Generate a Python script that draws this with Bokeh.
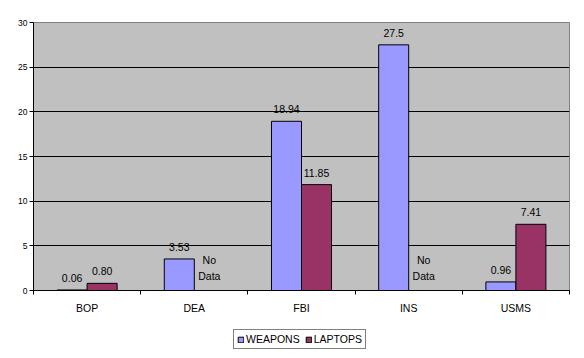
from bokeh.plotting import figure
from bokeh.models import ColumnDataSource, Range1d, FixedTicker, Legend, LegendItem
from bokeh.transform import dodge
from bokeh.core.properties import value
from bokeh.layouts import column
from bokeh.embed import file_html
from bokeh.resources import INLINE
import math

categories = ["BOP", "DEA", "FBI", "INS", "USMS"]
weapons = [0.06, 3.53, 18.94, 27.5, 0.96]
laptops = [0.80, float("nan"), 11.85, float("nan"), 7.41]
weapons_labels = ["0.06", "3.53", "18.94", "27.5", "0.96"]
laptops_labels = ["0.80", "No\nData", "11.85", "No\nData", "7.41"]
series_names = ["WEAPONS", "LAPTOPS"]
y_ticks = [0, 5, 10, 15, 20, 25, 30]

FONT = "Liberation Sans"
W_COLOR = "#9999FF"
L_COLOR = "#993366"
BAR_W = 0.28

xc = [i + 0.5 for i in range(len(categories))]
src = ColumnDataSource(dict(
    x=xc,
    weapons=weapons,
    laptops=laptops,
    wl=weapons_labels,
    ll=laptops_labels,
    wy=weapons,
    ly=[0 if (isinstance(v, float) and math.isnan(v)) else v for v in laptops],
))

p = figure(frame_width=536, frame_height=268, output_backend="svg", toolbar_location=None,
           x_range=Range1d(0, len(categories)), y_range=Range1d(0, 30),
           min_border_left=33, min_border_right=15, min_border_top=22, min_border_bottom=30)
p.background_fill_color = "#C0C0C0"
p.border_fill_color = "white"
p.outline_line_color = "#808080"
p.outline_line_width = 1

p.vbar(x=dodge("x", -BAR_W / 2, range=p.x_range), top="weapons", width=BAR_W, bottom=0,
       source=src, fill_color=W_COLOR, line_color="black", line_width=1)
p.vbar(x=dodge("x", BAR_W / 2, range=p.x_range), top="laptops", width=BAR_W, bottom=0,
       source=src, fill_color=L_COLOR, line_color="black", line_width=1)

p.text(x=dodge("x", -BAR_W / 2, range=p.x_range), y="wy", text="wl", source=src,
       text_align="center", text_baseline="bottom", y_offset=-8,
       text_font=value(FONT), text_font_size="10.5px", text_color="black")
p.text(x=dodge("x", BAR_W / 2, range=p.x_range), y="ly", text="ll", source=src,
       text_align="center", text_baseline="bottom", y_offset=-8, text_line_height=1.35,
       text_font=value(FONT), text_font_size="10.5px", text_color="black")

# grid
p.xgrid.visible = False
p.ygrid.ticker = FixedTicker(ticks=y_ticks[1:-1])
p.ygrid.grid_line_color = "black"
p.ygrid.grid_line_width = 1

# x axis
xa = p.xaxis[0]
xa.ticker = FixedTicker(ticks=xc, minor_ticks=list(range(len(categories) + 1)))
xa.major_label_overrides = {x: c for x, c in zip(xc, categories)}
xa.major_tick_out = 0
xa.major_tick_in = 0
xa.minor_tick_out = 4
xa.minor_tick_in = 0
xa.minor_tick_line_color = "black"
xa.axis_line_color = "black"
xa.major_label_standoff = 7
xa.major_label_text_font = FONT
xa.major_label_text_font_size = "10.5px"
xa.major_label_text_color = "black"

# y axis
ya = p.yaxis[0]
ya.ticker = FixedTicker(ticks=y_ticks)
ya.major_tick_out = 4
ya.major_tick_in = 0
ya.minor_tick_line_color = None
ya.axis_line_color = "black"
ya.major_tick_line_color = "black"
ya.major_label_standoff = 2
ya.major_label_text_font = FONT
ya.major_label_text_font_size = "8.5px"
ya.major_label_text_color = "black"

# legend strip below the chart (swatch renderers lie outside its visible range)
lf = figure(width=584, height=38, output_backend="svg", toolbar_location=None,
            x_range=Range1d(100, 101), y_range=Range1d(100, 101),
            min_border=0, min_border_left=0, min_border_right=0,
            min_border_top=0, min_border_bottom=0)
lf.axis.visible = False
lf.grid.visible = False
lf.outline_line_color = None
lf.background_fill_color = "white"
lf.border_fill_color = "white"
lw = lf.vbar(x=[0], top=[1], width=0.5, fill_color=W_COLOR, line_color="black", line_width=1)
ll = lf.vbar(x=[0], top=[1], width=0.5, fill_color=L_COLOR, line_color="black", line_width=1)

legend = Legend(items=[LegendItem(label=series_names[0], renderers=[lw]),
                       LegendItem(label=series_names[1], renderers=[ll])],
                orientation="horizontal", location=(200, 9))
legend.border_line_color = "black"
legend.border_line_width = 1
legend.background_fill_color = "white"
legend.background_fill_alpha = 1
legend.label_text_font = FONT
legend.label_text_font_size = "10.5px"
legend.label_text_color = "black"
legend.glyph_width = 7
legend.glyph_height = 7
legend.label_height = 10
legend.label_standoff = 2
legend.spacing = 5
legend.padding = 3
legend.margin = 0
lf.add_layout(legend, "center")

layout = column(p, lf, spacing=0)
open("out.html", "w").write(file_html(layout, INLINE))
